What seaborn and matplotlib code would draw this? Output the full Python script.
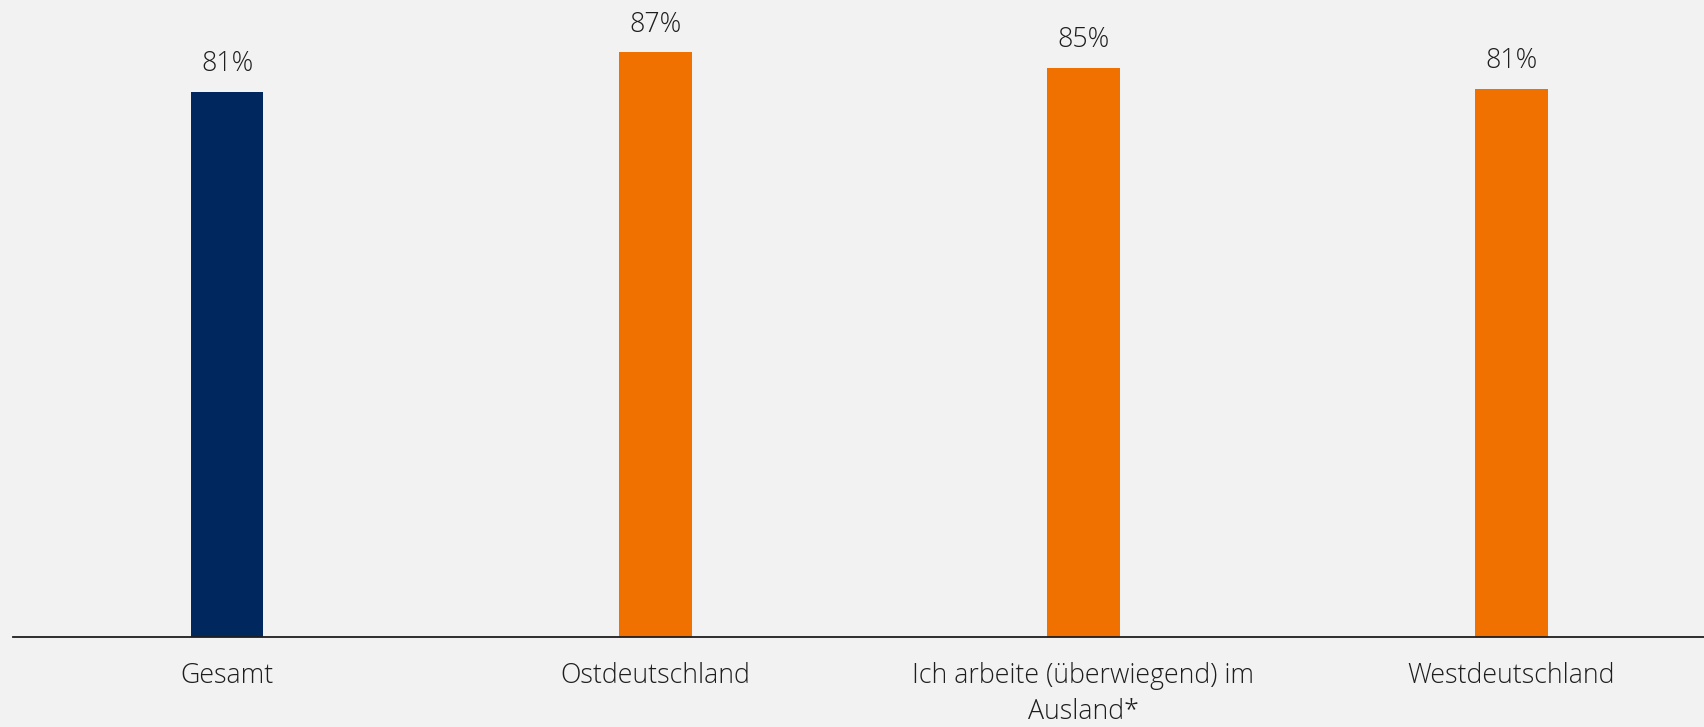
import matplotlib
matplotlib.use("Agg")
import matplotlib.pyplot as plt
import seaborn as sns
import pandas as pd

categories = ["Gesamt", "Ostdeutschland", "Ich arbeite (überwiegend) im\nAusland*", "Westdeutschland"]
values = [81.1, 87.0, 84.7, 81.5]
labels = ["81%", "87%", "85%", "81%"]
groups = ["total", "sub", "sub", "sub"]

BG = "#f2f2f2"
sns.set_theme(style="white")
plt.rcParams["font.family"] = ["Open Sans", "DejaVu Sans"]

df = pd.DataFrame({"cat": categories, "val": values, "grp": groups})

fig = plt.figure(figsize=(17.04, 7.27), dpi=100, facecolor=BG)
ax = fig.add_axes([13/1704, (727-637)/727, 1 - 13/1704, 637/727])
ax.set_facecolor(BG)

sns.barplot(data=df, x="cat", y="val", hue="grp", dodge=False,
            palette={"total": "#00275e", "sub": "#f07000"},
            width=0.17, legend=False, ax=ax, saturation=1,
            linewidth=0, edgecolor="none")

for i, (v, lab) in enumerate(zip(values, labels)):
    ax.annotate(lab, (i, v), xytext=(0, 10), textcoords="offset points",
                ha="center", va="bottom", fontsize=19.3, color="#1e1e1e",
                fontweight="light")

ax.set_xlim(-0.5, 3.45)
ax.set_ylim(0, 94.8)
ax.set_xlabel("")
ax.set_ylabel("")
ax.set_yticks([])
for s in ["top", "right", "left"]:
    ax.spines[s].set_visible(False)
ax.spines["bottom"].set_color("#1e1e1e")
ax.spines["bottom"].set_linewidth(1.3)
ax.tick_params(axis="x", length=0, pad=18)
for t in ax.get_xticklabels():
    t.set_fontsize(19.3)
    t.set_color("#1e1e1e")
    t.set_fontweight("light")
    t.set_linespacing(1.36)
    t.set_verticalalignment("top")

fig.savefig("out.png", dpi=100, facecolor=BG)
